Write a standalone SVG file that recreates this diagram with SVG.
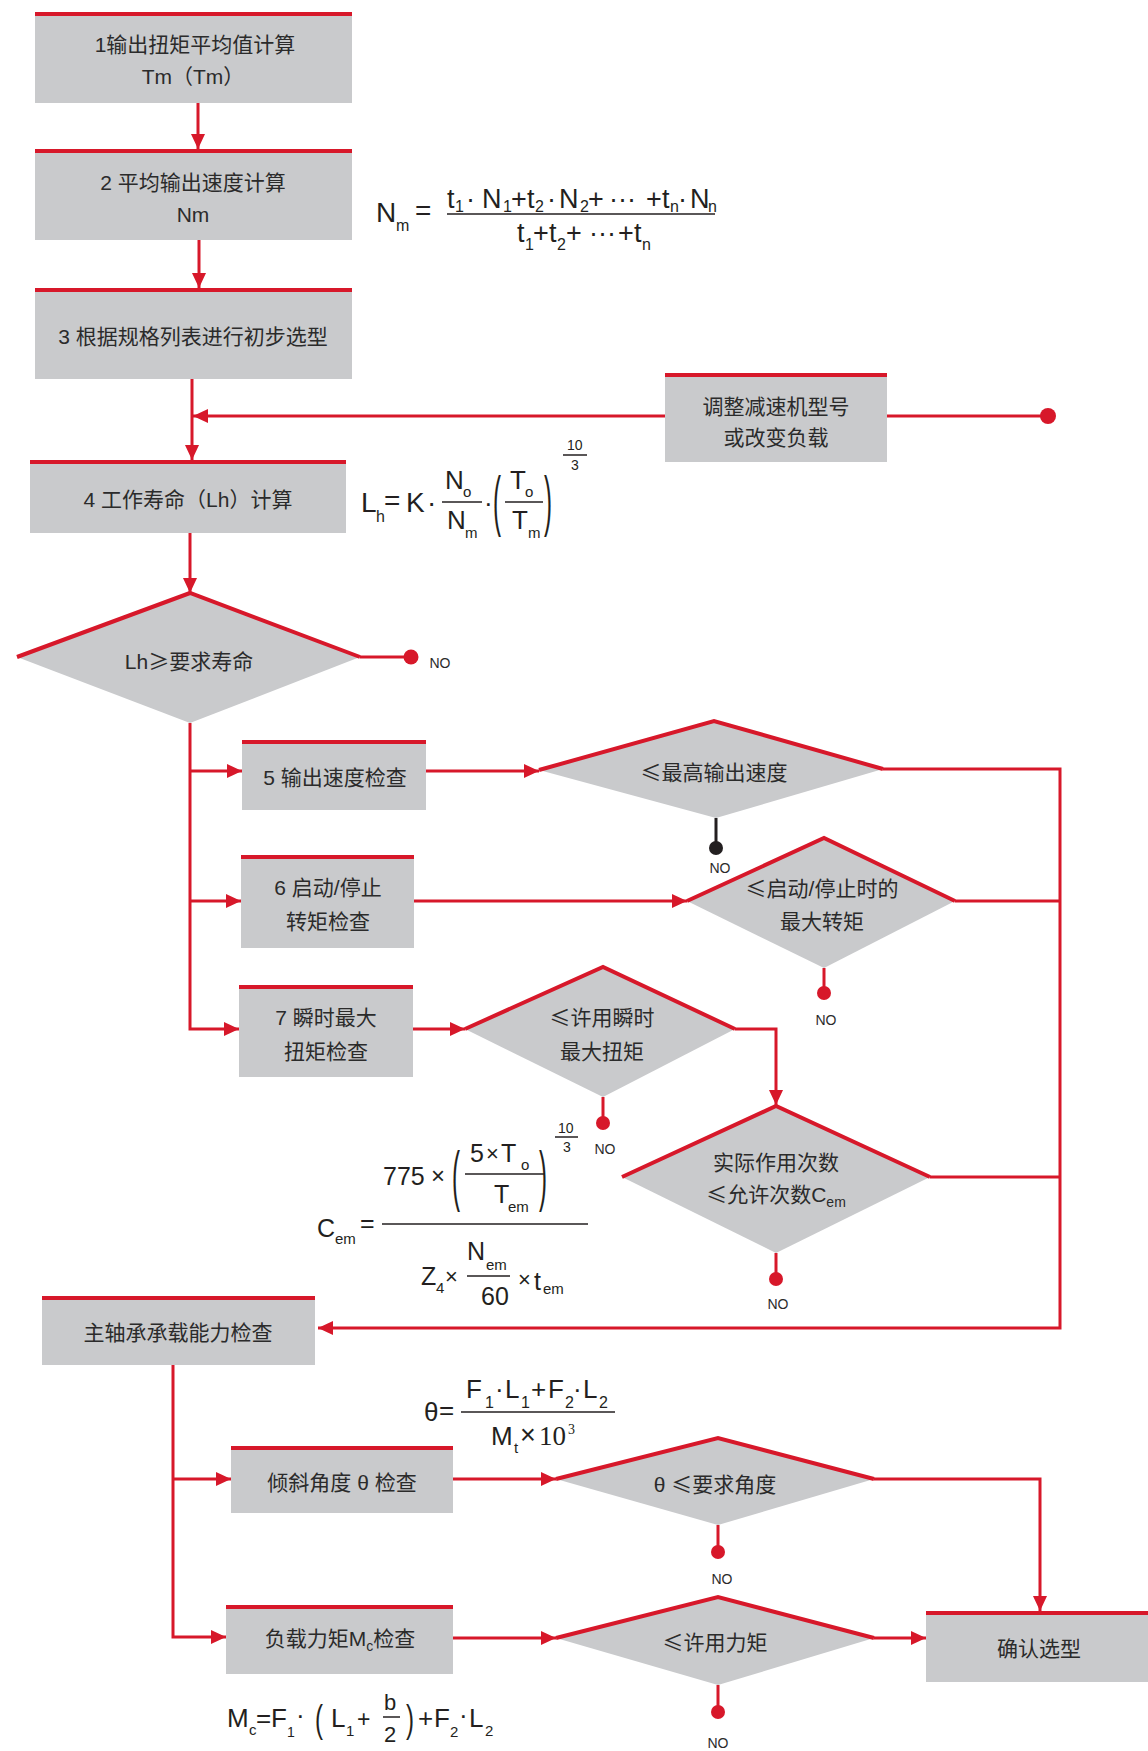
<svg xmlns="http://www.w3.org/2000/svg" width="1148" height="1751" viewBox="0 0 1148 1751">
<defs>
<style>
.box{fill:#c9cacc}
.bar{fill:#d7182a}
.dia{fill:#c9cacc}
.dedge{fill:none;stroke:#d7182a;stroke-width:4;stroke-linejoin:miter}
.ln{fill:none;stroke:#d7182a;stroke-width:3}
.lnk{fill:none;stroke:#231f20;stroke-width:3}
.dot{fill:#d7182a}
.t{font-family:"Liberation Sans","Noto Sans CJK SC",sans-serif;font-size:21px;fill:#2b2b2b;text-anchor:middle}
.cj{font-family:"Noto Sans CJK SC",sans-serif}
.no{font-family:"Liberation Sans",sans-serif;font-size:14px;fill:#2b2b2b;text-anchor:middle}
.f{font-family:"Liberation Sans",sans-serif;fill:#231f20}
.fs{font-family:"Liberation Serif",serif;fill:#231f20}
.fl{stroke:#231f20;stroke-width:1.5}
</style>
<marker id="arr" markerUnits="userSpaceOnUse" markerWidth="15" markerHeight="14" refX="15" refY="7" orient="auto">
<path d="M0,0 L15,7 L0,14 z" fill="#d7182a"/>
</marker>
</defs>
<rect width="1148" height="1751" fill="#ffffff"/>

<g id="connectors">
<path class="ln" d="M198,103 V149" marker-end="url(#arr)"/>
<path class="ln" d="M199,240 V288" marker-end="url(#arr)"/>
<path class="ln" d="M192,379 V460" marker-end="url(#arr)"/>
<path class="ln" d="M1048,416 H887"/>
<circle class="dot" cx="1048" cy="416" r="8"/>
<path class="ln" d="M665,416 H193" marker-end="url(#arr)"/>
<path class="ln" d="M190,533 V593" marker-end="url(#arr)"/>
<path class="ln" d="M360,657 H411"/>
<circle class="dot" cx="411" cy="657" r="7.5"/>
<path class="ln" d="M190,723 V1029 H239" marker-end="url(#arr)"/>
<path class="ln" d="M189,771 H242" marker-end="url(#arr)"/>
<path class="ln" d="M189,901 H241" marker-end="url(#arr)"/>
<path class="ln" d="M426,771 H539" marker-end="url(#arr)"/>
<path class="ln" d="M414,901 H687" marker-end="url(#arr)"/>
<path class="ln" d="M413,1029 H465" marker-end="url(#arr)"/>
<path class="lnk" d="M716,818 V848"/>
<circle cx="716" cy="848" r="7" fill="#231f20"/>
<path class="ln" d="M824,968 V993"/>
<circle class="dot" cx="824" cy="993" r="7"/>
<path class="ln" d="M603,1097 V1123"/>
<circle class="dot" cx="603" cy="1123" r="7"/>
<path class="ln" d="M735,1029 H776 V1105" marker-end="url(#arr)"/>
<path class="ln" d="M776,1253 V1279"/>
<circle class="dot" cx="776" cy="1279" r="7"/>
<path class="ln" d="M883,769 H1060 V1328 H318" marker-end="url(#arr)"/>
<path class="ln" d="M955,901 H1060"/>
<path class="ln" d="M930,1177 H1060"/>
<path class="ln" d="M173,1365 V1637 H226" marker-end="url(#arr)"/>
<path class="ln" d="M173,1479 H231" marker-end="url(#arr)"/>
<path class="ln" d="M453,1479 H556" marker-end="url(#arr)"/>
<path class="ln" d="M453,1638 H556" marker-end="url(#arr)"/>
<path class="ln" d="M874,1479 H1040 V1611" marker-end="url(#arr)"/>
<path class="ln" d="M874,1638 H926" marker-end="url(#arr)"/>
<path class="ln" d="M718,1525 V1552"/>
<circle class="dot" cx="718" cy="1552" r="7"/>
<path class="ln" d="M718,1685 V1712"/>
<circle class="dot" cx="718" cy="1712" r="7"/>
</g>

<g id="node-1">
<rect class="box" x="35" y="12" width="317" height="91"/>
<rect class="bar" x="35" y="12" width="317" height="4"/>
<text class="t" x="195" y="52">1输出扭矩平均值计算</text>
<text class="t" x="193" y="84">Tm（Tm）</text>
</g>
<g id="node-2">
<rect class="box" x="35" y="149" width="317" height="91"/>
<rect class="bar" x="35" y="149" width="317" height="4"/>
<text class="t" x="193" y="190">2 平均输出速度计算</text>
<text class="t" x="193" y="222">Nm</text>
</g>
<g id="node-3">
<rect class="box" x="35" y="288" width="317" height="91"/>
<rect class="bar" x="35" y="288" width="317" height="4"/>
<text class="t" x="193" y="344">3 根据规格列表进行初步选型</text>
</g>
<g id="node-adjust">
<rect class="box" x="665" y="373" width="222" height="89"/>
<rect class="bar" x="665" y="373" width="222" height="4"/>
<text class="t" x="776" y="414">调整减速机型号</text>
<text class="t" x="776" y="445">或改变负载</text>
</g>
<g id="node-4">
<rect class="box" x="30" y="460" width="316" height="73"/>
<rect class="bar" x="30" y="460" width="316" height="4"/>
<text class="t" x="188" y="507">4 工作寿命（Lh）计算</text>
</g>
<g id="node-d1">
<polygon class="dia" points="17,657 190,593 360,657 190,723"/>
<polyline class="dedge" points="17,657 190,593 360,657"/>
<text class="t" x="189" y="669">Lh<tspan class="cj">≥</tspan>要求寿命</text>
<text class="no" x="440" y="668">NO</text>
</g>
<g id="node-5">
<rect class="box" x="242" y="740" width="184" height="70"/>
<rect class="bar" x="242" y="740" width="184" height="4"/>
<text class="t" x="335" y="785">5 输出速度检查</text>
</g>
<g id="node-d2">
<polygon class="dia" points="539,770 714,721 883,769 716,818"/>
<polyline class="dedge" points="539,770 714,721 883,769"/>
<text class="t" x="714" y="780"><tspan class="cj">≤</tspan>最高输出速度</text>
<text class="no" x="720" y="873">NO</text>
</g>
<g id="node-6">
<rect class="box" x="241" y="855" width="173" height="93"/>
<rect class="bar" x="241" y="855" width="173" height="4"/>
<text class="t" x="328" y="895">6 启动/停止</text>
<text class="t" x="328" y="929">转矩检查</text>
</g>
<g id="node-d3">
<polygon class="dia" points="687,901 824,838 955,901 824,968"/>
<polyline class="dedge" points="687,901 824,838 955,901"/>
<text class="t" x="822" y="896"><tspan class="cj">≤</tspan>启动/停止时的</text>
<text class="t" x="822" y="929">最大转矩</text>
<text class="no" x="826" y="1025">NO</text>
</g>
<g id="node-7">
<rect class="box" x="239" y="985" width="174" height="92"/>
<rect class="bar" x="239" y="985" width="174" height="4"/>
<text class="t" x="326" y="1025">7 瞬时最大</text>
<text class="t" x="326" y="1059">扭矩检查</text>
</g>
<g id="node-d4">
<polygon class="dia" points="465,1029 603,967 735,1029 603,1097"/>
<polyline class="dedge" points="465,1029 603,967 735,1029"/>
<text class="t" x="602" y="1025"><tspan class="cj">≤</tspan>许用瞬时</text>
<text class="t" x="602" y="1059">最大扭矩</text>
<text class="no" x="605" y="1154">NO</text>
</g>
<g id="node-d5">
<polygon class="dia" points="622,1177 776,1106 930,1177 776,1253"/>
<polyline class="dedge" points="622,1177 776,1106 930,1177"/>
<text class="t" x="776" y="1170">实际作用次数</text>
<text class="t" x="776" y="1202"><tspan class="cj">≤</tspan>允许次数C<tspan font-size="14" dy="5">em</tspan></text>
<text class="no" x="778" y="1309">NO</text>
</g>
<g id="node-bearing">
<rect class="box" x="42" y="1296" width="273" height="69"/>
<rect class="bar" x="42" y="1296" width="273" height="4"/>
<text class="t" x="178" y="1340">主轴承承载能力检查</text>
</g>
<g id="node-tilt">
<rect class="box" x="231" y="1446" width="222" height="67"/>
<rect class="bar" x="231" y="1446" width="222" height="4"/>
<text class="t" x="342" y="1490">倾斜角度 θ 检查</text>
</g>
<g id="node-load">
<rect class="box" x="226" y="1605" width="227" height="69"/>
<rect class="bar" x="226" y="1605" width="227" height="4"/>
<text class="t" x="340" y="1646">负载力矩M<tspan font-size="14" dy="5">c</tspan><tspan dy="-5">检查</tspan></text>
</g>
<g id="node-dtheta">
<polygon class="dia" points="556,1479 718,1438 874,1479 718,1525"/>
<polyline class="dedge" points="556,1479 718,1438 874,1479"/>
<text class="t" x="715" y="1492">θ <tspan class="cj">≤</tspan>要求角度</text>
<text class="no" x="722" y="1584">NO</text>
</g>
<g id="node-dmoment">
<polygon class="dia" points="556,1638 718,1597 874,1638 718,1685"/>
<polyline class="dedge" points="556,1638 718,1597 874,1638"/>
<text class="t" x="715" y="1650"><tspan class="cj">≤</tspan>许用力矩</text>
<text class="no" x="718" y="1748">NO</text>
</g>
<g id="node-confirm">
<rect class="box" x="926" y="1611" width="222" height="71"/>
<rect class="bar" x="926" y="1611" width="222" height="4"/>
<text class="t" x="1039" y="1656">确认选型</text>
</g>

<g id="formula-nm">
<text class="f" font-size="28"><tspan x="376" y="222">N</tspan><tspan x="396" y="231" font-size="16">m</tspan><tspan x="415" y="220">=</tspan></text>
<text class="f" font-size="27"><tspan x="447" y="208">t</tspan><tspan x="455" y="212" font-size="16">1</tspan><tspan x="466" y="208">·</tspan><tspan x="482" y="208">N</tspan><tspan x="503" y="212" font-size="16">1</tspan><tspan x="511" y="208">+</tspan><tspan x="527" y="208">t</tspan><tspan x="535" y="212" font-size="16">2</tspan><tspan x="547" y="208">·</tspan><tspan x="559" y="208">N</tspan><tspan x="580" y="212" font-size="16">2</tspan><tspan x="588" y="208">+</tspan><tspan x="609" y="208">···</tspan><tspan x="646" y="208">+</tspan><tspan x="662" y="208">t</tspan><tspan x="670" y="212" font-size="16">n</tspan><tspan x="678" y="208">·</tspan><tspan x="690" y="208">N</tspan><tspan x="708" y="212" font-size="16">n</tspan></text>
<line class="fl" x1="447" y1="214" x2="715" y2="214"/>
<text class="f" font-size="27"><tspan x="517" y="242">t</tspan><tspan x="525" y="250" font-size="16">1</tspan><tspan x="533" y="242">+</tspan><tspan x="549" y="242">t</tspan><tspan x="557" y="250" font-size="16">2</tspan><tspan x="566" y="242">+</tspan><tspan x="589" y="242">···</tspan><tspan x="618" y="242">+</tspan><tspan x="634" y="242">t</tspan><tspan x="642" y="250" font-size="16">n</tspan></text>
</g>

<g id="formula-lh">
<text class="f" font-size="28"><tspan x="361" y="512">L</tspan><tspan x="376" y="522" font-size="16">h</tspan><tspan x="384" y="510">=</tspan><tspan x="406" y="512">K</tspan><tspan x="427" y="512">·</tspan></text>
<text class="f" font-size="26"><tspan x="445" y="489">N</tspan><tspan x="463" y="497" font-size="15">o</tspan><tspan x="447" y="529">N</tspan><tspan x="465" y="538" font-size="15">m</tspan><tspan x="484" y="512">·</tspan><tspan x="510" y="489">T</tspan><tspan x="525" y="497" font-size="15">o</tspan><tspan x="512" y="529">T</tspan><tspan x="528" y="538" font-size="15">m</tspan></text>
<line class="fl" x1="442" y1="502" x2="482" y2="502"/>
<line class="fl" x1="505" y1="502" x2="543" y2="502"/>
<text class="f" font-size="24" transform="translate(493,523) scale(1,2.8)">(</text>
<text class="f" font-size="24" transform="translate(544,523) scale(1,2.8)">)</text>
<text class="f" font-size="14"><tspan x="567" y="450">10</tspan><tspan x="571" y="470">3</tspan></text>
<line class="fl" x1="563" y1="455" x2="587" y2="455" stroke-width="1"/>
</g>

<g id="formula-cem">
<text class="f" font-size="25"><tspan x="317" y="1237">C</tspan><tspan x="335" y="1244" font-size="15">em</tspan><tspan x="360" y="1232">=</tspan><tspan x="383" y="1185">775</tspan><tspan x="431" y="1184" font-size="24">×</tspan><tspan x="470" y="1162">5</tspan><tspan x="486" y="1161" font-size="22">×</tspan><tspan x="501" y="1162">T</tspan><tspan x="521" y="1170" font-size="15">o</tspan><tspan x="494" y="1203">T</tspan><tspan x="508" y="1212" font-size="15">em</tspan><tspan x="421" y="1285">Z</tspan><tspan x="436" y="1293" font-size="15">4</tspan><tspan x="445" y="1284" font-size="22">×</tspan><tspan x="467" y="1260">N</tspan><tspan x="486" y="1270" font-size="15">em</tspan><tspan x="481" y="1305">60</tspan><tspan x="518" y="1287" font-size="22">×</tspan><tspan x="534" y="1290">t</tspan><tspan x="543" y="1294" font-size="15">em</tspan></text>
<line class="fl" x1="382" y1="1224" x2="588" y2="1224"/>
<line class="fl" x1="465" y1="1174" x2="545" y2="1174"/>
<line class="fl" x1="467" y1="1276" x2="510" y2="1276"/>
<text class="f" font-size="24" transform="translate(452,1198) scale(1,2.8)">(</text>
<text class="f" font-size="24" transform="translate(539,1198) scale(1,2.8)">)</text>
<text class="f" font-size="14"><tspan x="558" y="1133">10</tspan><tspan x="563" y="1152">3</tspan></text>
<line class="fl" x1="555" y1="1137" x2="578" y2="1137" stroke-width="1"/>
</g>

<g id="formula-theta">
<text class="f" font-size="26"><tspan x="424" y="1421">θ</tspan><tspan x="439" y="1419">=</tspan><tspan x="466" y="1398">F</tspan><tspan x="485" y="1408" font-size="16">1</tspan><tspan x="495" y="1398">·</tspan><tspan x="505" y="1398">L</tspan><tspan x="521" y="1408" font-size="16">1</tspan><tspan x="531" y="1398">+</tspan><tspan x="548" y="1398">F</tspan><tspan x="565" y="1408" font-size="16">2</tspan><tspan x="573" y="1398">·</tspan><tspan x="583" y="1398">L</tspan><tspan x="599" y="1408" font-size="16">2</tspan><tspan x="491" y="1445">M</tspan><tspan x="514" y="1453" font-size="15">t</tspan><tspan x="520" y="1444" font-size="27">×</tspan></text>
<line class="fl" x1="461" y1="1412" x2="615" y2="1412"/>
<text class="fs" font-size="27"><tspan x="539" y="1445">10</tspan><tspan x="568" y="1434" font-size="14">3</tspan></text>
</g>

<g id="formula-mc">
<text class="f" font-size="26"><tspan x="227" y="1727">M</tspan><tspan x="249" y="1735" font-size="15">c</tspan><tspan x="256" y="1727">=</tspan><tspan x="271" y="1727">F</tspan><tspan x="287" y="1737" font-size="14">1</tspan><tspan x="296" y="1724">·</tspan><tspan x="331" y="1727">L</tspan><tspan x="346" y="1736" font-size="15">1</tspan><tspan x="357" y="1727" font-size="23">+</tspan><tspan x="384" y="1710" font-size="22">b</tspan><tspan x="384" y="1742" font-size="22">2</tspan><tspan x="418" y="1727">+</tspan><tspan x="434" y="1727">F</tspan><tspan x="450" y="1737" font-size="15">2</tspan><tspan x="459" y="1724">·</tspan><tspan x="469" y="1727">L</tspan><tspan x="485" y="1736" font-size="15">2</tspan></text>
<line class="fl" x1="383" y1="1717" x2="400" y2="1717"/>
<text class="f" font-size="24" transform="translate(315,1732) scale(1,1.6)">(</text>
<text class="f" font-size="24" transform="translate(406,1732) scale(1,1.6)">)</text>
</g>
</svg>
